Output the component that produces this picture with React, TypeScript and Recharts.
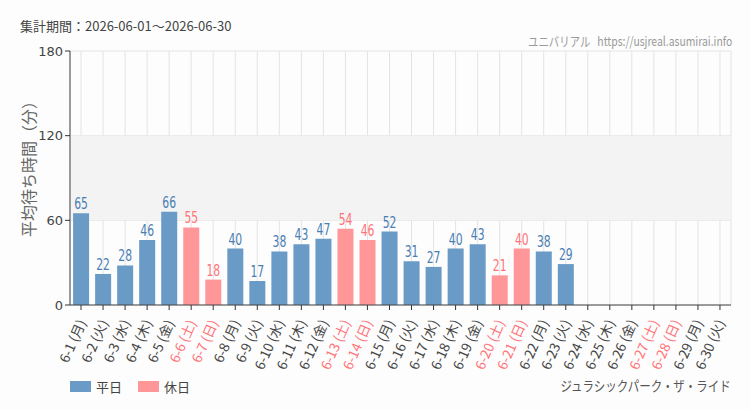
import React from 'react';
import {
  BarChart,
  Bar,
  XAxis,
  YAxis,
  CartesianGrid,
  ReferenceArea,
  LabelList,
  Cell,
} from 'recharts';

// 集計期間 2026-06-01 ～ 2026-06-30
const days = [
  '6-1', '6-2', '6-3', '6-4', '6-5', '6-6', '6-7', '6-8', '6-9', '6-10',
  '6-11', '6-12', '6-13', '6-14', '6-15', '6-16', '6-17', '6-18', '6-19', '6-20',
  '6-21', '6-22', '6-23', '6-24', '6-25', '6-26', '6-27', '6-28', '6-29', '6-30',
];
const weekdays = [
  '月', '火', '水', '木', '金', '土', '日', '月', '火', '水',
  '木', '金', '土', '日', '月', '火', '水', '木', '金', '土',
  '日', '月', '火', '水', '木', '金', '土', '日', '月', '火',
];
// 平均待ち時間（分）, null = まだデータなし
const waitMinutes: (number | null)[] = [
  65, 22, 28, 46, 66, 55, 18, 40, 17, 38,
  43, 47, 54, 46, 52, 31, 27, 40, 43, 21,
  40, 38, 29, null, null, null, null, null, null, null,
];
const yTicks = [0, 60, 120, 180];

const WEEKDAY_BAR = '#6a9ac6';
const HOLIDAY_BAR = '#ff9698';
const WEEKDAY_TEXT = '#4a7db4';
const HOLIDAY_TEXT = '#ff7478';
const JP_FONT = "'Noto Sans CJK JP', 'DejaVu Sans', sans-serif";
const NUM_FONT = "'DejaVu Sans', sans-serif";

const isHoliday = (w: string) => w === '土' || w === '日';

const data = days.map((d, i) => ({
  day: d,
  label: `${d} (${weekdays[i]})`,
  value: waitMinutes[i],
  holiday: isHoliday(weekdays[i]),
}));

const DayTick = (props: any) => {
  const { x, y, payload, index } = props;
  const row = data[index];
  const ty = y + 8;
  return (
    <text
      x={x}
      y={ty}
      transform={`rotate(-66, ${x}, ${ty})`}
      textAnchor="end"
      dominantBaseline="central"
      fontSize={13.5}
      fontFamily={JP_FONT}
      fill={row && row.holiday ? HOLIDAY_TEXT : '#444'}
    >
      {payload.value}
    </text>
  );
};

// narrow digits: squeeze horizontally around the bar centre
const ValueLabel = (props: any) => {
  const { x, y, width, value, index } = props;
  if (value == null) return null;
  const row = data[index];
  const cx = x + width / 2;
  return (
    <text
      x={0}
      y={y - 4}
      transform={`translate(${cx}, 0) scale(0.72, 1)`}
      textAnchor="middle"
      fontSize={15}
      fontFamily={NUM_FONT}
      fill={row.holiday ? HOLIDAY_TEXT : WEEKDAY_TEXT}
    >
      {value}
    </text>
  );
};

export default function App() {
  return (
    <div
      style={{
        position: 'relative',
        width: 750,
        height: 410,
        background: '#fcfdfc',
        fontFamily: JP_FONT,
        overflow: 'hidden',
      }}
    >
      <style>{'body{margin:0}'}</style>
      <div style={{ position: 'absolute', left: 20, top: 16, fontSize: 13, color: '#444' }}>
        集計期間：2026-06-01～2026-06-30
      </div>
      <div
        style={{
          position: 'absolute',
          right: 18,
          top: 31,
          fontSize: 13,
          color: '#9a9a9a',
          whiteSpace: 'nowrap',
          transform: 'scaleX(0.8)',
          transformOrigin: 'right center',
        }}
      >
        ユニバリアル&nbsp;&nbsp;&nbsp;https://usjreal.asumirai.info
      </div>
      <div
        style={{
          position: 'absolute',
          left: 16,
          top: 165,
          transform: 'translate(0, -50%) rotate(-90deg)',
          transformOrigin: 'center',
          fontSize: 16,
          color: '#666',
          whiteSpace: 'nowrap',
          width: 24,
          display: 'flex',
          justifyContent: 'center',
        }}
      >
        <span style={{ display: 'inline-block' }}>平均待ち時間（分）</span>
      </div>

      <BarChart
        width={750}
        height={410}
        data={data}
        margin={{ top: 51, right: 19, bottom: 0, left: 0 }}
        barCategoryGap="14%"
      >
        <ReferenceArea y1={60} y2={120} fill="#f2f3f2" fillOpacity={1} ifOverflow="visible" />
        <CartesianGrid stroke="#e4e4e4" />
        <XAxis
          dataKey="label"
          interval={0}
          tick={<DayTick />}
          tickLine={{ stroke: '#333' }}
          axisLine={{ stroke: '#444' }}
          tickSize={5}
          height={105}
        />
        <YAxis
          width={70}
          domain={[0, 180]}
          ticks={yTicks}
          tick={{ fontSize: 13, fill: '#444', fontFamily: NUM_FONT }}
          tickLine={{ stroke: '#333' }}
          axisLine={{ stroke: '#444' }}
          tickSize={5}
        />
        <Bar dataKey="value" isAnimationActive={false}>
          {data.map((d, i) => (
            <Cell key={i} fill={d.holiday ? HOLIDAY_BAR : WEEKDAY_BAR} />
          ))}
          <LabelList dataKey="value" content={<ValueLabel />} />
        </Bar>
      </BarChart>

      <div
        style={{
          position: 'absolute',
          left: 70,
          top: 377,
          display: 'flex',
          alignItems: 'center',
          fontSize: 13,
          color: '#444',
        }}
      >
        <span style={{ width: 21, height: 11, background: WEEKDAY_BAR, display: 'inline-block', marginRight: 5 }} />
        <span style={{ marginRight: 16 }}>平日</span>
        <span style={{ width: 21, height: 11, background: HOLIDAY_BAR, display: 'inline-block', marginRight: 5 }} />
        <span>休日</span>
      </div>
      <div
        style={{
          position: 'absolute',
          right: 19,
          top: 375,
          fontSize: 14,
          color: '#555',
          whiteSpace: 'nowrap',
          transform: 'scaleX(0.82)',
          transformOrigin: 'right center',
        }}
      >
        ジュラシックパーク・ザ・ライド
      </div>
    </div>
  );
}
